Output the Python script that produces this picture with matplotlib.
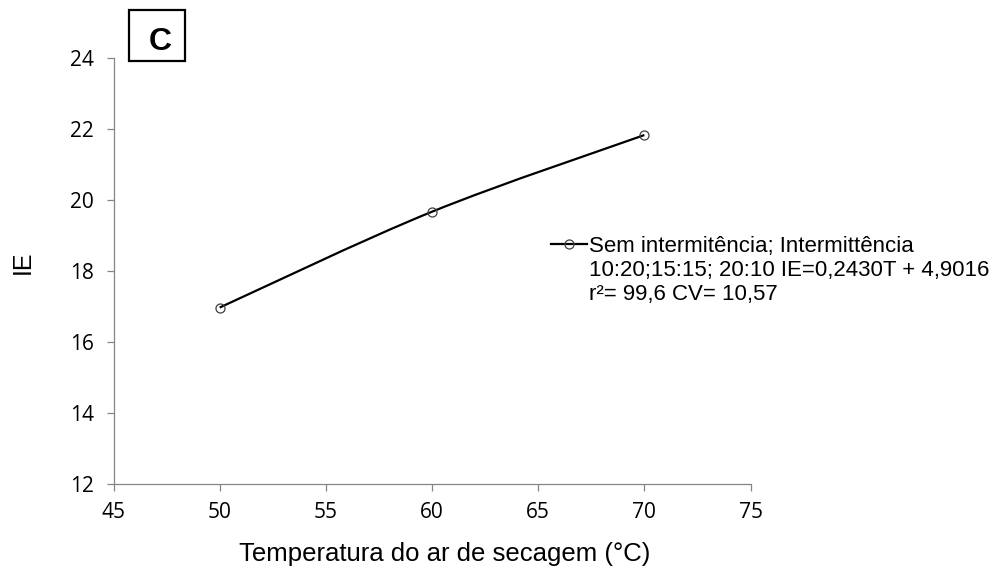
import matplotlib
matplotlib.use("Agg")
import matplotlib.pyplot as plt
from matplotlib.path import Path
from matplotlib.patches import PathPatch, Rectangle
from matplotlib.lines import Line2D
import numpy as np

# Índice de expansão (IE) em função da temperatura do ar de secagem
temperatura = [50, 60, 70]
ie = [16.97, 19.67, 21.83]

x_ticks = [45, 50, 55, 60, 65, 70, 75]
y_ticks = [12, 14, 16, 18, 20, 22, 24]

serie_label = ("Sem intermitência; Intermittência\n"
               "10:20;15:15; 20:10 IE=0,2430T + 4,9016\n"
               "r²= 99,6 CV= 10,57")
painel = "C"
x_label = "Temperatura do ar de secagem (°C)"
y_label = "IE"

plt.rcParams['font.family'] = ['Liberation Sans', 'DejaVu Sans']

AXIS_GRAY = "#868686"

fig = plt.figure(figsize=(10, 5.75), dpi=100)
ax = fig.add_axes([0.1135, 0.1583, 0.637, 0.7408])


def smooth_path(xs, ys):
    """Curva suavizada (Catmull-Rom em Bézier cúbica) passando pelos pontos."""
    pts = np.column_stack([xs, ys]).astype(float)
    ext = np.vstack([pts[0], pts, pts[-1]])
    verts = [pts[0]]
    codes = [Path.MOVETO]
    for i in range(1, len(ext) - 2):
        p0, p1, p2, p3 = ext[i - 1], ext[i], ext[i + 1], ext[i + 2]
        verts += [p1 + (p2 - p0) / 6.0, p2 - (p3 - p1) / 6.0, p2]
        codes += [Path.CURVE4] * 3
    return Path(verts, codes)


curva = PathPatch(smooth_path(temperatura, ie), fill=False, edgecolor="black",
                  linewidth=1.6, transform=ax.transData, zorder=2)
ax.add_patch(curva)
ax.plot(temperatura, ie, linestyle="none", marker="o", markersize=6.5,
        markerfacecolor="none", markeredgecolor="#404040",
        markeredgewidth=0.9, zorder=3)

ax.set_xlim(45, 75)
ax.set_ylim(12, 24)
ax.set_xticks(x_ticks)
ax.set_yticks(y_ticks)

for side in ("top", "right"):
    ax.spines[side].set_visible(False)
for side in ("left", "bottom"):
    ax.spines[side].set_color(AXIS_GRAY)
    ax.spines[side].set_linewidth(0.9)

ax.tick_params(axis="both", direction="out", length=5, width=0.9,
               color=AXIS_GRAY, labelsize=15, labelcolor="black")
ax.tick_params(axis="y", pad=9)
ax.tick_params(axis="x", pad=8)
for lbl in ax.get_xticklabels() + ax.get_yticklabels():
    lbl.set_fontfamily(["Open Sans", "DejaVu Sans"])

ax.set_xlabel(x_label, fontsize=18.5, va="baseline", ha="center")
ax.xaxis.set_label_coords(0.520, -0.180)
ax.set_ylabel(y_label, fontsize=18, va="center", ha="center")
ax.yaxis.set_label_coords(-0.142, 0.521)

# Legenda da série, fora da área do gráfico
y_leg = 1 - 244 / 575
fig.add_artist(Line2D([0.551, 0.569, 0.587], [y_leg] * 3, color="black",
                      linewidth=1.6, marker="o", markevery=[1],
                      markersize=6.5, markerfacecolor="none",
                      markeredgecolor="#404040", markeredgewidth=0.9,
                      transform=fig.transFigure))
# va="baseline" de texto multilinha usa a linha de base da última linha
fig.text(0.589, 1 - 299.7 / 575, serie_label, fontsize=16, ha="left",
         va="baseline", linespacing=1.17)

# Identificação do painel
fig.add_artist(Rectangle((0.129, 1 - 61 / 575), 0.056, 51 / 575,
                         fill=False, edgecolor="black", linewidth=1.6,
                         transform=fig.transFigure))
fig.text(0.160, 1 - 50 / 575, painel, fontsize=23, fontweight="bold",
         ha="center", va="baseline")

fig.savefig("out.png", dpi=100)
